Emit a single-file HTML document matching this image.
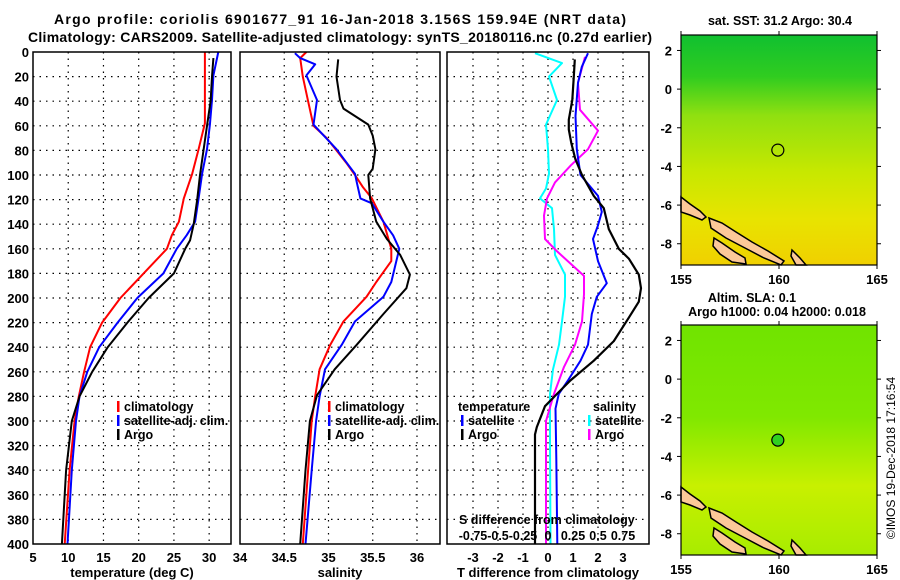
<!DOCTYPE html>
<html><head><meta charset="utf-8"><style>
body{margin:0;background:#fff;}
svg{display:block;font-family:"Liberation Sans",sans-serif;font-weight:bold;}
</style></head><body>
<svg id="c" width="900" height="580" viewBox="0 0 900 580">
<defs>
<linearGradient id="g1" x1="0" y1="0" x2="0" y2="1">
<stop offset="0" stop-color="#10c030"/><stop offset="0.18" stop-color="#30cc20"/><stop offset="0.35" stop-color="#90e010"/><stop offset="0.6" stop-color="#c8e800"/><stop offset="0.8" stop-color="#e8e400"/><stop offset="1" stop-color="#f0d000"/></linearGradient>
<linearGradient id="g2" x1="0" y1="0" x2="0" y2="1">
<stop offset="0" stop-color="#70e400"/><stop offset="0.4" stop-color="#80e800"/><stop offset="0.7" stop-color="#c8f000"/><stop offset="1" stop-color="#a8ec00"/></linearGradient>
</defs>
<g id="titles" font-size="14">
<text x="340" y="24" text-anchor="middle" textLength="572">Argo profile: coriolis 6901677_91 16-Jan-2018 3.156S 159.94E (NRT data)</text>
<text x="340" y="42" text-anchor="middle" textLength="624">Climatology: CARS2009. Satellite-adjusted climatology: synTS_20180116.nc (0.27d earlier)</text>
</g>
<g id="plots"></g>
<g id="maps"></g>
</svg>
<script>
// ---- data: temperature panel ----
const tClimDepth=[0,20,40,58,79,99,119,138,149,160,180,200,220,240,260,280,300,340,400];
const tClimVal=[29.4,29.4,29.4,29.4,28.5,27.6,26.4,25.7,24.7,24.0,20.7,17.4,14.8,13.1,12.25,11.5,10.9,10.2,9.5];
const tSatDepth=[0,19,39,59,79,99,119,138,149,160,180,200,220,240,260,280,300,340,400];
const tSatVal=[31.3,30.6,30.4,30.1,29.7,29.0,28.5,28.0,26.8,25.4,23.5,19.8,17.0,14.4,12.7,11.6,11.1,10.5,9.9];
const tArgoDepth=[5,20,40,60,80,100,120,140,153,160,180,200,220,240,260,280,300,340,400];
const tArgoVal=[30.6,30.4,30.2,29.7,29.2,28.7,28.3,27.8,27.3,26.6,25.0,21.4,18.4,15.6,13.4,11.6,10.5,9.7,9.1];
// ---- data: salinity panel ----
const sClimDepth=[0,5,20,40,60,70,80,90,100,110,119,138,160,170,187,199,219,238,258,280,300,340,400];
const sClimVal=[34.75,34.68,34.71,34.77,34.83,34.98,35.09,35.2,35.3,35.39,35.49,35.62,35.71,35.71,35.54,35.43,35.17,35.02,34.9,34.85,34.81,34.77,34.71];
const sSatDepth=[1,5,10,19,39,59,79,99,106,119,123,138,149,160,187,199,219,238,258,280,300,340,400];
const sSatVal=[34.62,34.68,34.85,34.75,34.87,34.83,35.09,35.3,35.32,35.36,35.49,35.62,35.73,35.8,35.71,35.62,35.3,35.15,34.96,34.9,34.86,34.81,34.74];
const sArgoDepth=[6,20,39,46,59,68,79,95,100,119,138,152,165,181,192,213,238,258,279,300,340,400];
const sArgoVal=[35.11,35.09,35.13,35.17,35.45,35.5,35.53,35.5,35.45,35.47,35.54,35.66,35.81,35.92,35.88,35.62,35.32,35.07,34.87,34.79,34.74,34.68];
// ---- data: difference panel (T in deg C, S in psu) ----
const dTArgoDepth=[6,20,39,55,63,74,87,100,117,127,144,160,168,181,192,203,216,235,251,267,278,288,305,311,340,400];
const dTArgoVal=[1.07,1.03,0.97,0.83,0.83,0.93,1.09,1.36,1.83,2.23,2.43,2.83,3.23,3.63,3.72,3.63,3.23,2.63,1.83,0.9,0.36,-0.12,-0.45,-0.52,-0.52,-0.52];
const dTSatDepth=[1,12,25,52,79,100,117,130,141,152,170,188,199,213,238,251,267,278,290,330,400];
const dTSatVal=[1.6,1.35,1.2,1.1,1.15,1.3,2.0,2.15,2.0,1.8,2.0,2.35,1.95,1.75,1.6,1.3,0.8,0.43,0.3,0.33,0.37];
const dSSatDepth=[1,9,20,39,59,79,99,111,119,127,144,165,181,199,219,238,258,278,320,400];
const dSSatVal=[-0.13,0.14,0.01,0.09,-0.02,0,0.01,-0.02,-0.08,0.04,0.06,0.07,0.17,0.17,0.14,0.11,0.05,0.02,0.02,0.025];
const dSArgoDepth=[4,25,47,64,79,92,106,119,133,152,162,182,197,219,238,256,278,300,400];
const dSArgoVal=[0.37,0.3,0.32,0.5,0.4,0.23,0.07,-0.01,-0.04,-0.03,0.09,0.36,0.36,0.34,0.27,0.16,0.06,-0.02,-0.02];
// ---- tick labels ----
const depthTicks=[0,20,40,60,80,100,120,140,160,180,200,220,240,260,280,300,320,340,360,380,400];
const tTicks=[5,10,15,20,25,30];
const sTicks=[34,34.5,35,35.5,36];
const dTTicks=[-3,-2,-1,0,1,2,3];
const dSTicks=[-0.75,-0.5,-0.25,0,0.25,0.5,0.75];
const dSTickLabels=["-0.75","-0.5","-0.25","0","0.25","0.5","0.75"];
const latTicks=[2,0,-2,-4,-6,-8];
const lonTicks=[155,160,165];

const NS="http://www.w3.org/2000/svg";
function mk(tag,attrs,parent){const e=document.createElementNS(NS,tag);for(const k in attrs)e.setAttribute(k,attrs[k]);parent.appendChild(e);return e;}
const plots=document.getElementById('plots');
const yTop=52,yBot=544;
function yD(d){return yTop+(yBot-yTop)*d/400;}

function panel(name,x0,x1,vmin,vmax,ticks,tickLabels,title,gridTicks){
  const g=mk('g',{},plots);
  
  
  const xs=v=>x0+(x1-x0)*(v-vmin)/(vmax-vmin);
  mk('rect',{x:x0,y:yTop,width:x1-x0,height:yBot-yTop,fill:'#fff'},g);
  for(const d of depthTicks){if(d>0&&d<400){const l=mk('line',{x1:x0,x2:x1,y1:yD(d),y2:yD(d),stroke:'#000','stroke-width':1.2,'stroke-dasharray':'1.5 5'},g);}}
  for(const v of gridTicks){const l=mk('line',{x1:xs(v),x2:xs(v),y1:yTop,y2:yBot,stroke:'#000','stroke-width':1.2,'stroke-dasharray':'1.5 5'},g);}
  ticks.forEach((v,i)=>{const t=mk('text',{x:xs(v),y:562,'text-anchor':'middle','font-size':13},g);t.textContent=tickLabels[i];});
  const tt=mk('text',{x:(x0+x1)/2,y:577,'text-anchor':'middle','font-size':13},g);tt.textContent=title;
  
  
  return {g,xs};
}
function line(p,depths,vals,color,name,w,conv){
  const pts=depths.map((d,i)=>p.xs(conv?conv(vals[i]):vals[i]).toFixed(1)+','+yD(d).toFixed(1)).join(' ');
  const l=mk('polyline',{points:pts,fill:'none',stroke:color,'stroke-width':w||2,'stroke-linejoin':'round'},p.g);
  
  
}
function frame(p,x0,x1){mk('rect',{x:x0,y:yTop,width:x1-x0,height:yBot-yTop,fill:'none',stroke:'#000','stroke-width':1.5},p.g);}
function legend(g,x,y,color,label,name){
  mk('rect',{x:x,y:y-10,width:2.5,height:11,fill:color},g);
  const t=mk('text',{x:x+7,y:y,'font-size':12.5},g);t.textContent=label;
  
  
}

depthTicks.forEach(d=>{const t=mk('text',{x:29,y:yD(d)+5,'text-anchor':'end','font-size':13},plots);t.textContent=d;});

const p1=panel('temperature-panel',33,231,5,33.1,tTicks,tTicks.map(String),'temperature (deg C)',[10,15,20,25,30]);
line(p1,tClimDepth,tClimVal,'#ff0000','climatology-temperature-line');
line(p1,tSatDepth,tSatVal,'#0000ff','satellite-adj-temperature-line');
line(p1,tArgoDepth,tArgoVal,'#000','argo-temperature-line');
frame(p1,33,231);
legend(p1.g,117,411,'#ff0000','climatology','legend-climatology');
legend(p1.g,117,425,'#0000ff','satellite-adj. clim.','legend-satellite-adj');
legend(p1.g,117,439,'#000','Argo','legend-argo');

const p2=panel('salinity-panel',240,440,34,36.26,sTicks,["34","34.5","35","35.5","36"],'salinity',[34.5,35,35.5,36]);
line(p2,sClimDepth,sClimVal,'#ff0000','climatology-salinity-line');
line(p2,sSatDepth,sSatVal,'#0000ff','satellite-adj-salinity-line');
line(p2,sArgoDepth,sArgoVal,'#000','argo-salinity-line');
frame(p2,240,440);
legend(p2.g,328,411,'#ff0000','climatology','legend-climatology-2');
legend(p2.g,328,425,'#0000ff','satellite-adj. clim.','legend-satellite-adj-2');
legend(p2.g,328,439,'#000','Argo','legend-argo-2');

const p3=panel('difference-panel',447,649,-4.04,4.04,dTTicks,dTTicks.map(String),'T difference from climatology',[-3,-2,-1,0,1,2,3]);
const sConv=v=>v*4;
line(p3,dSSatDepth,dSSatVal,'#00ffff','satellite-salinity-diff-line',2,sConv);
line(p3,dSArgoDepth,dSArgoVal,'#ff00ff','argo-salinity-diff-line',2,sConv);
line(p3,dTSatDepth,dTSatVal,'#0000ff','satellite-temperature-diff-line',2);
line(p3,dTArgoDepth,dTArgoVal,'#000','argo-temperature-diff-line',2.2);
frame(p3,447,649);
{const t=mk('text',{x:458,y:411,'font-size':12.5},p3.g);t.textContent='temperature';}
{const t=mk('text',{x:593,y:411,'font-size':12.5},p3.g);t.textContent='salinity';}
legend(p3.g,461,425,'#0000ff','satellite','legend-t-satellite');
legend(p3.g,461,439,'#000','Argo','legend-t-argo');
legend(p3.g,588,425,'#00ffff','satellite','legend-s-satellite');
legend(p3.g,588,439,'#ff00ff','Argo','legend-s-argo');
{const t=mk('text',{x:459,y:524,'font-size':12.5},p3.g);t.textContent='S difference from climatology';}
dSTicks.forEach((v,i)=>{const t=mk('text',{x:p3.xs(v*4),y:540,'text-anchor':'middle','font-size':12.5},p3.g);t.textContent=dSTickLabels[i];});

const maps=document.getElementById('maps');
function map(name,oy,fill,titles,circleFill){
  const g=mk('g',{},maps);
  
  
  const mx0=681,mx1=877,my0=35+oy,my1=265+oy;
  const lx=lon=>mx0+(mx1-mx0)*(lon-155)/10;
  const ly=lat=>my0+(my1-my0)*(2.8-lat)/11.9;
  mk('rect',{x:mx0,y:my0,width:mx1-mx0,height:my1-my0,fill:fill},g);
  const land=[
   [[681,197],[690,204],[700,211],[706,217],[702,220],[690,215],[681,212]],
   [[709,218],[722,223],[736,232],[752,242],[768,251],[784,261],[781,265],[764,258],[745,248],[726,238],[711,228]],
   [[714,238],[722,243],[735,252],[745,258],[746,264],[732,262],[720,254],[713,246]],
   [[792,250],[800,258],[806,265],[796,265],[791,256]]
  ];
  land.forEach(poly=>{const pl=mk('polygon',{points:poly.map(p=>p[0]+','+(p[1]+oy)).join(' '),fill:'#fcc898',stroke:'#000','stroke-width':1.5},g);});
  mk('rect',{x:mx0,y:my0,width:mx1-mx0,height:my1-my0,fill:'none',stroke:'#000','stroke-width':1.2},g);
  const c=mk('circle',{cx:lx(159.94),cy:ly(-3.156),r:6,fill:circleFill,stroke:'#000','stroke-width':1.2},g);
  
  
  latTicks.forEach(v=>{mk('line',{x1:mx0-4,x2:mx0,y1:ly(v),y2:ly(v),stroke:'#000'},g);mk('line',{x1:mx1,x2:mx1+4,y1:ly(v),y2:ly(v),stroke:'#000'},g);
    const t=mk('text',{x:mx0-9,y:ly(v)+5,'text-anchor':'end','font-size':13},g);t.textContent=v;});
  lonTicks.forEach(v=>{mk('line',{x1:lx(v),x2:lx(v),y1:my0-4,y2:my0,stroke:'#000'},g);mk('line',{x1:lx(v),x2:lx(v),y1:my1,y2:my1+4,stroke:'#000'},g);
    const t=mk('text',{x:lx(v),y:my1+19,'text-anchor':'middle','font-size':13},g);t.textContent=v;});
  titles.forEach(tt=>{const t=mk('text',{x:tt[0],y:tt[1]+oy,'text-anchor':'middle','font-size':12.5},g);t.textContent=tt[2];});
}
map('sst-map',0,'url(#g1)',[[780,25,'sat. SST: 31.2 Argo: 30.4']],'none');
map('sla-map',290,'url(#g2)',[[752,12,'Altim. SLA: 0.1'],[777,26,'Argo h1000: 0.04 h2000: 0.018']],'#30d020');
{const t=mk('text',{x:0,y:0,'font-size':12,'font-weight':'normal',transform:'translate(895,458) rotate(-90)','text-anchor':'middle'},maps);t.textContent='©IMOS 19-Dec-2018 17:16:54';}
</script>
</body></html>
